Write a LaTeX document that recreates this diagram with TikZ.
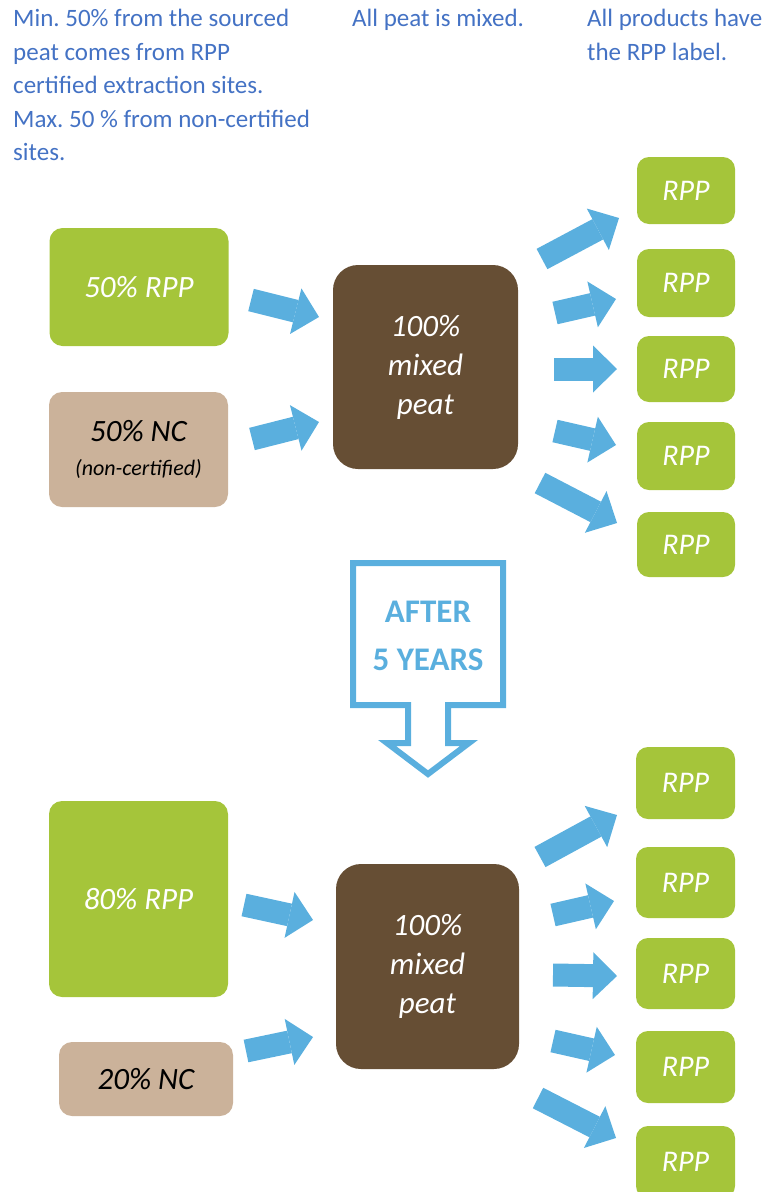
\documentclass[tikz,border=0pt]{standalone}
\usepackage{fontspec}
\setmainfont{Carlito}
\usetikzlibrary{arrows.meta}
\definecolor{rppgreen}{HTML}{A5C53A}
\definecolor{nctan}{HTML}{CBB29A}
\definecolor{peatbrown}{HTML}{664E34}
\definecolor{arrowblue}{HTML}{5AAFDE}
\definecolor{noteblue}{HTML}{4472C4}
\frenchspacing
\begin{document}
\begin{tikzpicture}[x=1pt,y=-1pt,
  box/.style={rounded corners=13pt, inner sep=0pt, align=center, font=\itshape\fontsize{31}{34}\selectfont},
  greenbox/.style={box, fill=rppgreen, text=white},
  tanbox/.style={box, fill=nctan, text=black},
  peatbox/.style={box, rounded corners=25pt, fill=peatbrown, text=white, font=\itshape\fontsize{31}{39}\selectfont},
  outbox/.style={greenbox, rounded corners=12pt, minimum width=98pt, font=\itshape\fontsize{30}{34}\selectfont},
  flow/.style={line width=23pt, draw=arrowblue, -{Triangle[width=47pt,length=24pt,line width=0pt,fill=arrowblue]}},
  note/.style={text=noteblue, font=\fontsize{25}{33.5}\selectfont, align=left, anchor=north west, inner sep=0pt},
  bignote/.style={text=arrowblue, font=\bfseries\fontsize{33}{48}\selectfont, align=center, inner sep=0pt}]
\useasboundingbox (0,0) rectangle (766,1192);

% notes
\node[note] (n1) at (13,9) {Min. 50\% from the sourced\\peat comes from RPP\\certified extraction sites.\\Max. 50 \% from non-certified\\sites.};
\node[note] (n2) at (352,9) {All peat is mixed.};
\node[note] (n3) at (587,9) {All products have\\the RPP label.};

% top section
\node[greenbox, minimum width=179pt, minimum height=118pt] (rpp1) at (139,287) {50\% RPP};
\node[tanbox, minimum width=179pt, minimum height=115pt] (nc1) at (138.5,449.5) {50\% NC\\{\fontsize{22}{27}\selectfont (non-certified)}};
\node[peatbox, minimum width=185pt, minimum height=204pt] (mix1) at (425.5,367) {100\%\\mixed\\peat};
\node[outbox, minimum height=67pt] (o1) at (686,190.5) {RPP};
\node[outbox, minimum height=68pt] (o2) at (686,283) {RPP};
\node[outbox, minimum height=66pt] (o3) at (686,369) {RPP};
\node[outbox, minimum height=68pt] (o4) at (686,456) {RPP};
\node[outbox, minimum height=65pt] (o5) at (686,544.5) {RPP};

\coordinate (ta1) at (251,300); \coordinate (ha1) at (319,317);
\coordinate (ta2) at (252,439); \coordinate (ha2) at (319,422);
\coordinate (tb1) at (542,259); \coordinate (hb1) at (619,218);
\coordinate (tb2) at (555,313); \coordinate (hb2) at (616,299);
\coordinate (tb3) at (554,369); \coordinate (hb3) at (617,369);
\coordinate (tb4) at (555,431); \coordinate (hb4) at (616,445);
\coordinate (tb5) at (540,483); \coordinate (hb5) at (617,523);
\foreach \p in {a1,a2,b1,b2,b3,b4,b5} \draw[flow] (t\p) -- (h\p);

% after 5 years
\draw[arrowblue, line width=6pt, miter limit=10] (353,563) -- (503,563) -- (503,705) -- (448,705) -- (448,743) -- (469,743) -- (428,774) -- (387,743) -- (408,743) -- (408,705) -- (353,705) -- cycle;
\node[bignote] (after) at (428,636) {AFTER\\5 YEARS};

% bottom section
\node[greenbox, minimum width=179pt, minimum height=196pt] (rpp2) at (138.5,899) {80\% RPP};
\node[tanbox, minimum width=174pt, minimum height=74pt] (nc2) at (146,1079) {20\% NC};
\node[peatbox, minimum width=183pt, minimum height=205pt] (mix2) at (427.5,966.5) {100\%\\mixed\\peat};
\node[outbox, minimum width=99pt, minimum height=72pt] (p1) at (685.5,783) {RPP};
\node[outbox, minimum width=99pt, minimum height=71pt] (p2) at (685.5,882.5) {RPP};
\node[outbox, minimum width=99pt, minimum height=71pt] (p3) at (685.5,973.5) {RPP};
\node[outbox, minimum width=99pt, minimum height=72pt] (p4) at (685.5,1067) {RPP};
\node[outbox, minimum width=99pt, minimum height=72pt] (p5) at (685.5,1162) {RPP};

\coordinate (tc1) at (244,905); \coordinate (hc1) at (313,920);
\coordinate (tc2) at (246,1051); \coordinate (hc2) at (313,1037);
\coordinate (td1) at (540,857); \coordinate (hd1) at (617,815);
\coordinate (td2) at (553,915); \coordinate (hd2) at (614,901);
\coordinate (td3) at (553,975); \coordinate (hd3) at (617,976);
\coordinate (td4) at (553,1041); \coordinate (hd4) at (615,1055);
\coordinate (td5) at (538,1098); \coordinate (hd5) at (616,1138);
\foreach \p in {c1,c2,d1,d2,d3,d4,d5} \draw[flow] (t\p) -- (h\p);
\end{tikzpicture}
\end{document}
